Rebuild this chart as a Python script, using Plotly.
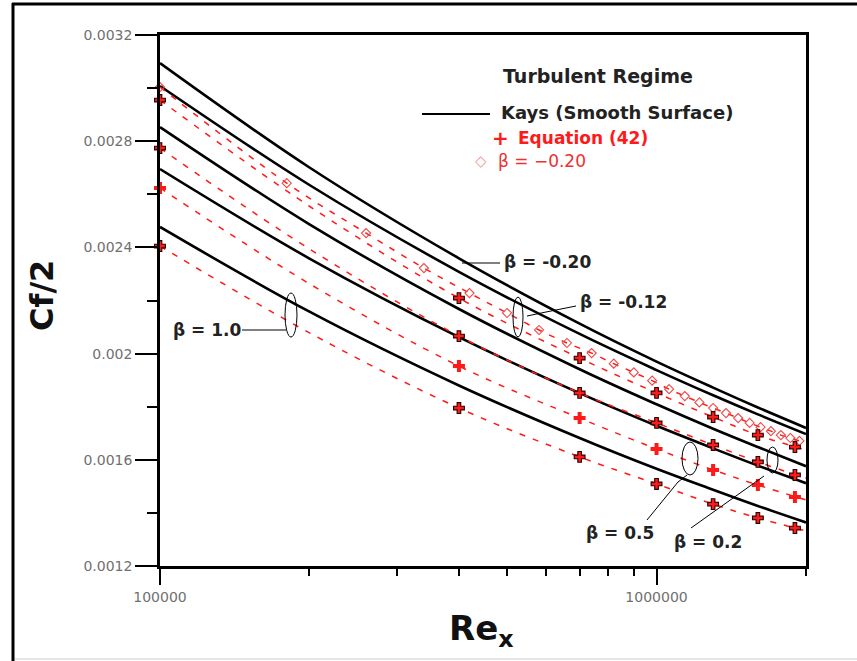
import plotly.graph_objects as go

# ---------------- data ----------------
RE_LINE = [1e5, 2e5, 4e5, 7e5, 1e6, 1.3e6, 1.6e6, 2e6]

# Kays (smooth surface) style solid curves, one per beta
KAYS_BM020 = [0.003094, 0.002701, 0.002359, 0.002113, 0.001970, 0.001872, 0.001797, 0.001720]
KAYS_BM012 = [0.003008, 0.002635, 0.002308, 0.002074, 0.001938, 0.001843, 0.001771, 0.001697]
KAYS_B02   = [0.002853, 0.002487, 0.002168, 0.001941, 0.001809, 0.001717, 0.001648, 0.001576]
KAYS_B05   = [0.002695, 0.002358, 0.002062, 0.001851, 0.001728, 0.001643, 0.001578, 0.001512]
KAYS_B10   = [0.002477, 0.002158, 0.001880, 0.001682, 0.001566, 0.001487, 0.001426, 0.001364]

# Equation (42) dashed curves
EQ_BM012 = [0.002955, 0.002555, 0.002209, 0.001983, 0.001852, 0.001761, 0.001693, 0.001637]
EQ_B02   = [0.002774, 0.002394, 0.002066, 0.001852, 0.001739, 0.001656, 0.001592, 0.001531]
EQ_B05   = [0.002624, 0.002263, 0.001953, 0.001757, 0.001641, 0.001562, 0.001505, 0.001449]
EQ_B10   = [0.002405, 0.002078, 0.001795, 0.001611, 0.001509, 0.001433, 0.001381, 0.001332]

# Equation (42) marker points
RE_MARK = [1e5, 4e5, 7e5, 1e6, 1.3e6, 1.6e6, 1.9e6]
MK_BM012 = [0.002955, 0.002209, 0.001983, 0.001852, 0.001761, 0.001693, 0.001648]
MK_B02   = [0.002774, 0.002066, 0.001852, 0.001739, 0.001656, 0.001592, 0.001543]
MK_B05   = [0.002624, 0.001953, 0.001757, 0.001641, 0.001562, 0.001505, 0.001460]
MK_B10   = [0.002405, 0.001795, 0.001611, 0.001509, 0.001433, 0.001381, 0.001343]

# beta = -0.20 diamond series
RE_DIA = [1.0e5, 1.8e5, 2.6e5, 3.4e5, 4.2e5, 5.0e5, 5.8e5, 6.6e5, 7.4e5, 8.2e5, 9.0e5, 9.8e5,
          1.06e6, 1.14e6, 1.22e6, 1.30e6, 1.38e6, 1.46e6, 1.54e6, 1.62e6, 1.70e6, 1.78e6, 1.86e6, 1.94e6]
DIA_BM020 = [0.003004, 0.002642, 0.002454, 0.002322, 0.002228, 0.002153, 0.002089, 0.002040,
             0.002002, 0.001962, 0.001929, 0.001898, 0.001866, 0.001840, 0.001816, 0.001795,
             0.001776, 0.001757, 0.001739, 0.001723, 0.001708, 0.001693, 0.001682, 0.001671]

Y_TICKS = [0.0012, 0.0016, 0.002, 0.0024, 0.0028, 0.0032]
Y_TICKTEXT = ["0.0012", "0.0016", "0.002", "0.0024", "0.0028", "0.0032"]
X_TICKS = [1e5, 1e6]
X_TICKTEXT = ["100000", "1000000"]
X_MINOR = [2e5, 3e5, 4e5, 5e5, 6e5, 7e5, 8e5, 9e5, 2e6]

# ---------------- figure ----------------
W, H = 857, 661
L, R, T, B = 160, 806, 35, 566


def fx(px):
    return (px - L) / (R - L)


def fy(py):
    return (B - py) / (B - T)


RED = "#ff1a1a"
FONT = "DejaVu Sans"
DASH = "6px,8px"

fig = go.Figure()

for name, ys in [("Kays β=-0.20", KAYS_BM020), ("Kays β=-0.12", KAYS_BM012),
                 ("Kays β=0.2", KAYS_B02), ("Kays β=0.5", KAYS_B05), ("Kays β=1.0", KAYS_B10)]:
    fig.add_trace(go.Scatter(x=RE_LINE, y=ys, mode="lines", name=name, showlegend=False,
                             line=dict(color="black", width=2.6, shape="spline")))

for name, ys in [("Eq.42 β=-0.12", EQ_BM012), ("Eq.42 β=0.2", EQ_B02),
                 ("Eq.42 β=0.5", EQ_B05), ("Eq.42 β=1.0", EQ_B10)]:
    fig.add_trace(go.Scatter(x=RE_LINE, y=ys, mode="lines", name=name, showlegend=False,
                             line=dict(color=RED, width=1.5, dash=DASH, shape="spline")))

fig.add_trace(go.Scatter(x=RE_DIA, y=DIA_BM020, mode="lines+markers", name="β = -0.20",
                         showlegend=False, cliponaxis=False,
                         line=dict(color=RED, width=1.5, dash=DASH, shape="spline"),
                         marker=dict(symbol="diamond-open", size=7, color="#f04848",
                                     line=dict(width=1.1, color="#f04848"))))

for name, ys, filled in [("pts β=-0.12", MK_BM012, False), ("pts β=0.2", MK_B02, False),
                         ("pts β=0.5", MK_B05, True), ("pts β=1.0", MK_B10, False)]:
    fig.add_trace(go.Scatter(x=RE_MARK, y=ys, mode="markers", name=name, showlegend=False,
                             cliponaxis=False,
                             marker=dict(symbol="cross", size=10 if filled else 9, color=RED,
                                         line=dict(width=0 if filled else 1.1,
                                                   color=RED if filled else "#2a0000"))))

shapes = []
# outer frame
shapes.append(dict(type="line", xref="paper", yref="paper", x0=fx(13), x1=fx(13), y0=fy(3), y1=fy(700),
                   line=dict(color="black", width=3)))
shapes.append(dict(type="line", xref="paper", yref="paper", x0=fx(12), x1=fx(900), y0=fy(4), y1=fy(4),
                   line=dict(color="black", width=3)))
shapes.append(dict(type="line", xref="paper", yref="paper", x0=fx(15), x1=fx(900), y0=fy(659), y1=fy(659),
                   line=dict(color="#cccccc", width=1)))
# legend line
shapes.append(dict(type="line", xref="paper", yref="paper", x0=fx(422), x1=fx(490), y0=fy(114), y1=fy(114),
                   line=dict(color="black", width=2)))


def seg(p, q):
    shapes.append(dict(type="line", xref="paper", yref="paper", x0=fx(p[0]), y0=fy(p[1]),
                       x1=fx(q[0]), y1=fy(q[1]), line=dict(color="black", width=1)))


def ell(x0, x1, y0, y1):
    shapes.append(dict(type="circle", xref="paper", yref="paper", x0=fx(x0), x1=fx(x1),
                       y0=fy(y1), y1=fy(y0), line=dict(color="black", width=1)))


seg((462, 263), (500, 263))
seg((527, 316), (546, 312)); seg((546, 312), (576, 306))
seg((242, 330), (286, 330))
seg((647, 520), (678, 482)); seg((678, 482), (687, 475))
seg((691, 528), (764, 476))
ell(513, 523, 297, 337)
ell(285, 297, 293, 337)
ell(682, 698, 442, 475)
ell(767, 778, 447, 473)

ann = []


def text(px, py, s, size=17, color="#222222", bold=True, xanchor="left", angle=0):
    ann.append(dict(xref="paper", yref="paper", x=fx(px), y=fy(py), text=("<b>%s</b>" % s) if bold else s,
                    showarrow=False, xanchor=xanchor, yanchor="middle", textangle=angle,
                    font=dict(family=FONT, size=size, color=color)))


text(598, 76, "Turbulent Regime", size=19, xanchor="center")
text(499, 113, "Kays (Smooth Surface)", size=18)
text(500, 138, "+", size=20, color=RED, xanchor="center")
text(516, 138, "Equation (42)", size=17, color=RED)
text(481, 161, "◇", size=15, color="#f09a9a", bold=False, xanchor="center")
text(496, 161, "β = −0.20", size=17, color="#ee3030", bold=False)

text(502, 262, "β = -0.20")
text(578, 302, "β = -0.12")
text(171, 330, "β = 1.0")
text(584, 533, "β = 0.5")
text(672, 542, "β = 0.2")

text(42, 296, "Cf/2", size=32, color="#111111", xanchor="center", angle=-90)
ann.append(dict(xref="paper", yref="paper", x=fx(481), y=fy(630), text="<b>Re<sub>x</sub></b>",
                showarrow=False, xanchor="center", yanchor="middle",
                font=dict(family=FONT, size=34, color="#111111")))

fig.update_layout(
    width=W, height=H,
    margin=dict(l=L, r=W - R, t=T, b=H - B),
    paper_bgcolor="white", plot_bgcolor="white",
    shapes=shapes, annotations=ann, showlegend=False,
)
fig.update_xaxes(type="log", range=[5, 6.30103], showgrid=False, zeroline=False,
                 showline=True, mirror=True, linecolor="black", linewidth=2.5,
                 tickmode="array", tickvals=X_TICKS, ticktext=X_TICKTEXT,
                 ticks="outside", ticklen=16, tickwidth=2, tickcolor="black",
                 tickfont=dict(family=FONT, size=14, color="#707070"),
                 minor=dict(tickmode="array", tickvals=X_MINOR, ticks="outside", ticklen=7,
                            tickwidth=2, tickcolor="black", showgrid=False))
fig.update_yaxes(range=[0.0012, 0.0032], showgrid=False, zeroline=False,
                 showline=True, mirror=True, linecolor="black", linewidth=2.5,
                 tickmode="array", tickvals=Y_TICKS, ticktext=Y_TICKTEXT,
                 ticks="outside", ticklen=22, tickwidth=2, tickcolor="black",
                 tickfont=dict(family=FONT, size=14, color="#707070"),
                 minor=dict(tick0=0.0012, dtick=0.0002, ticks="outside", ticklen=10,
                            tickwidth=2, tickcolor="black", showgrid=False))

fig.write_html("out.html")
